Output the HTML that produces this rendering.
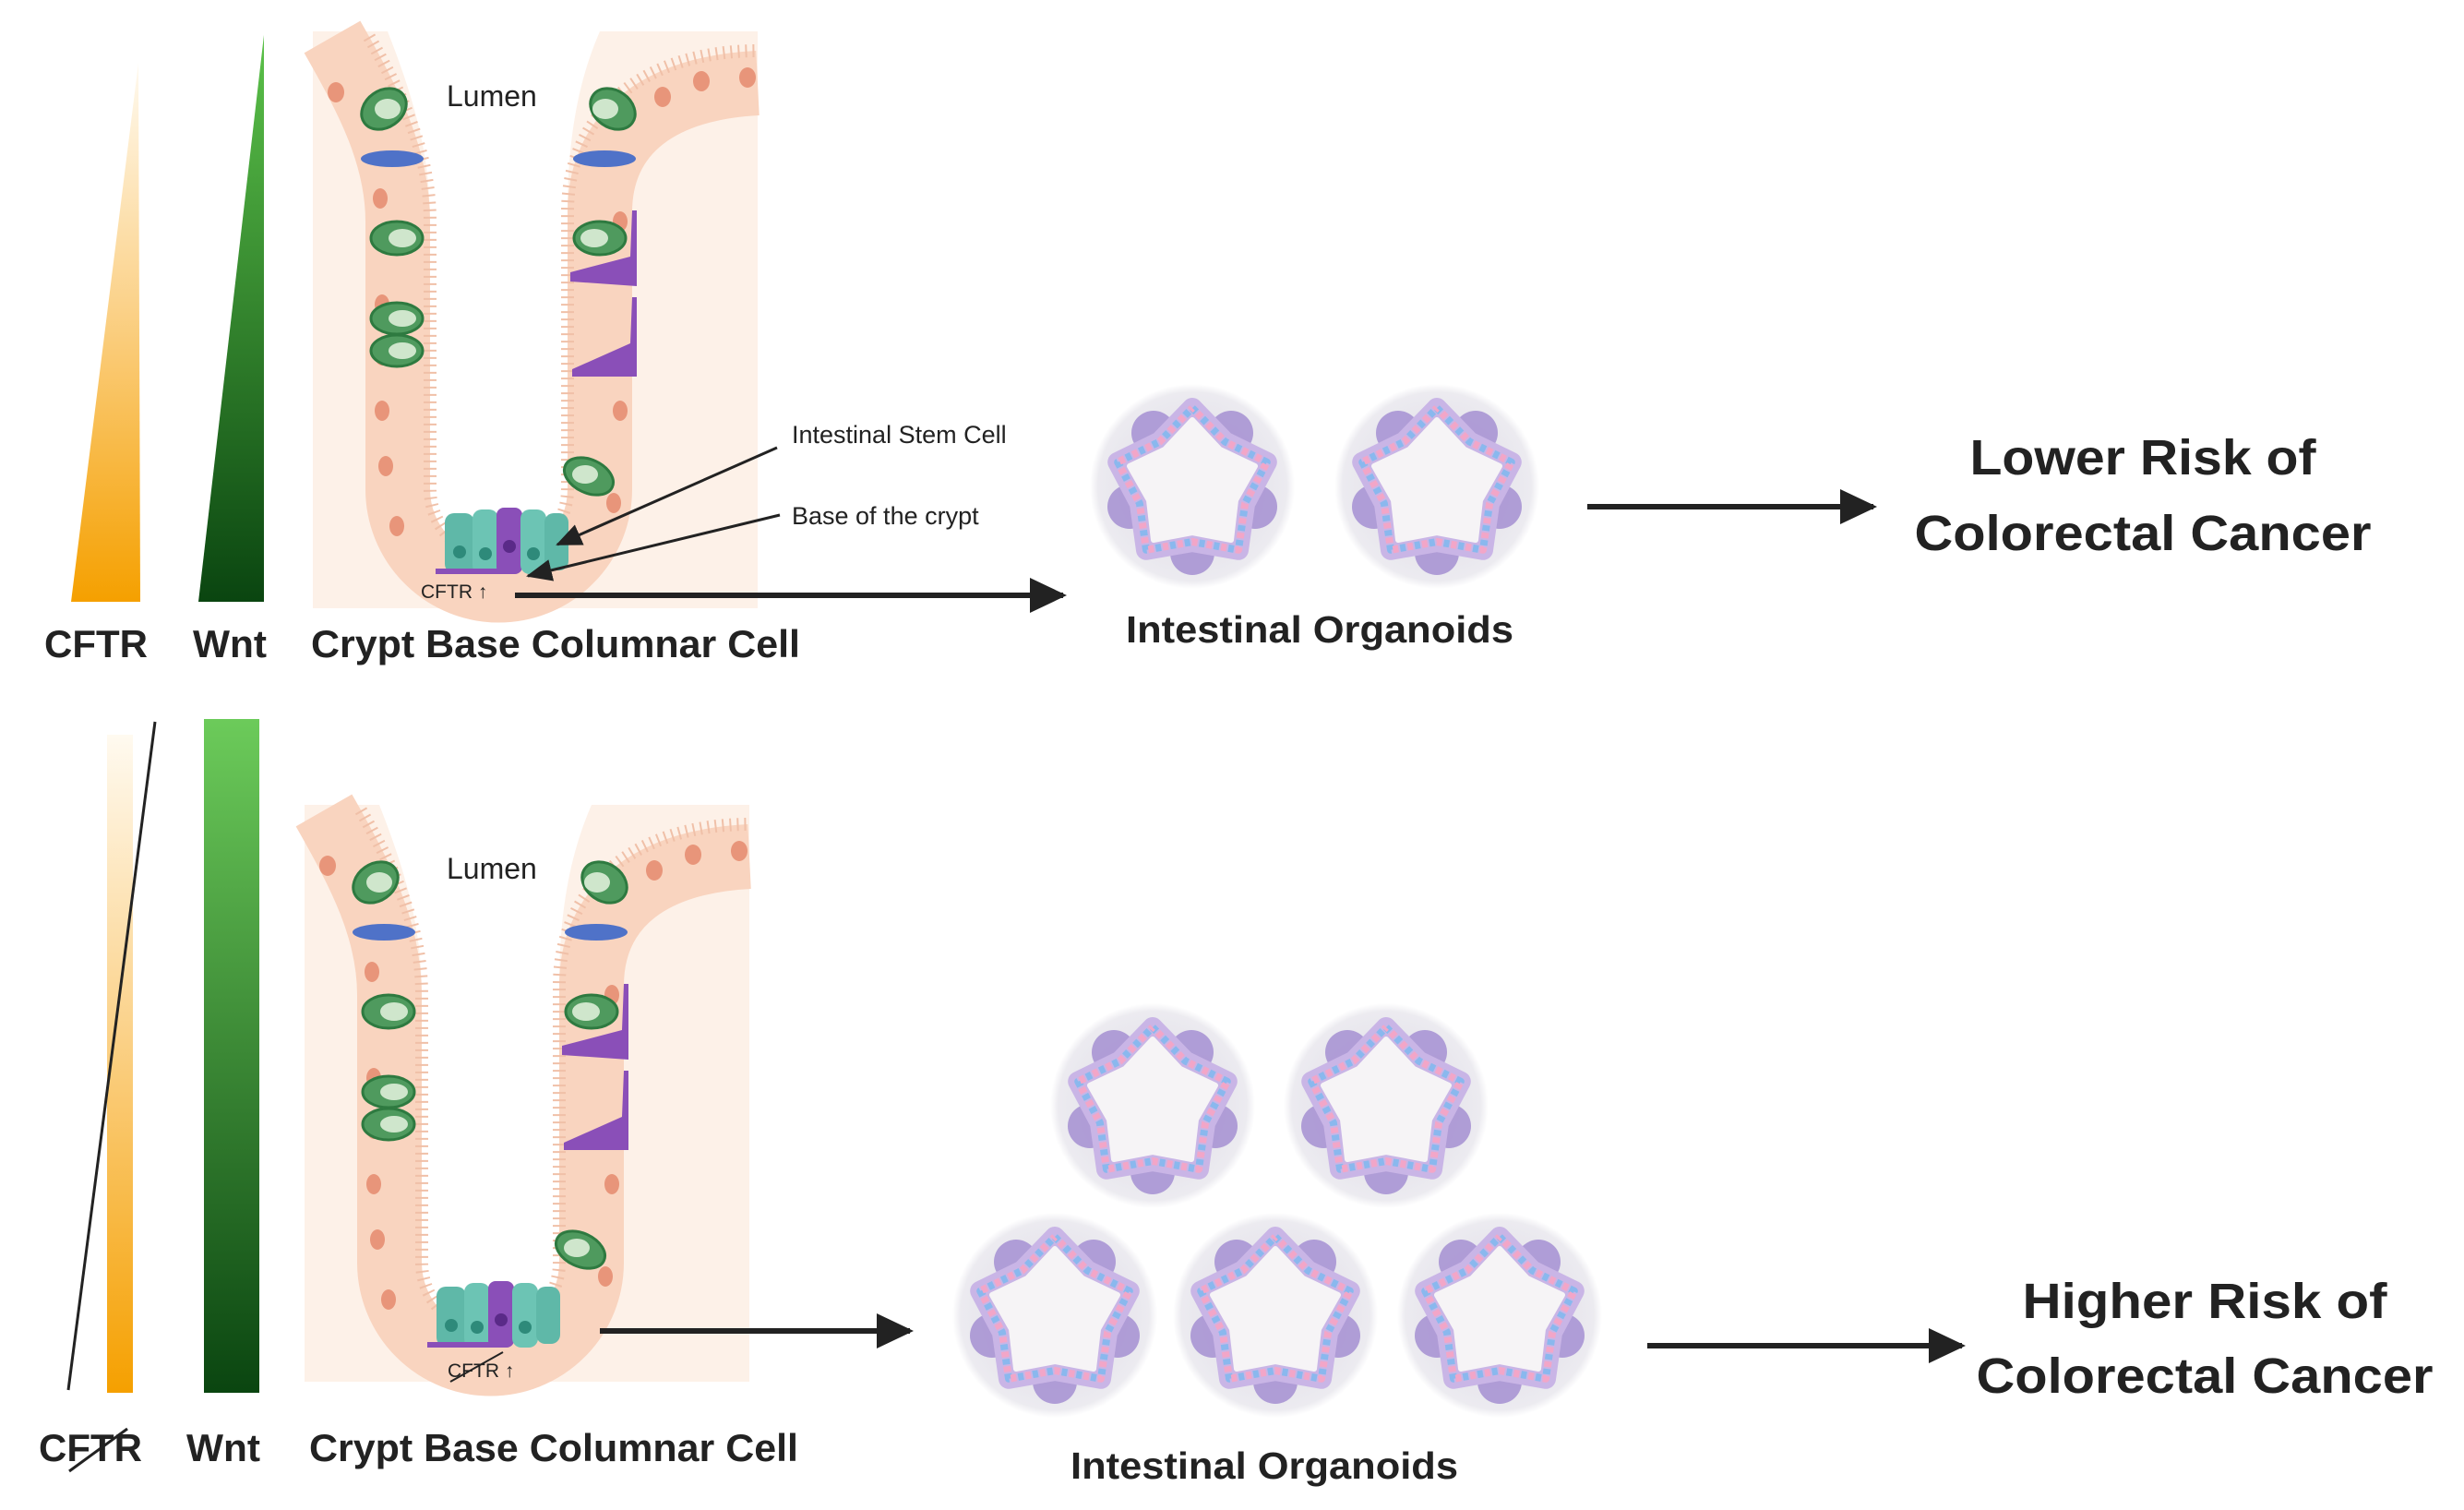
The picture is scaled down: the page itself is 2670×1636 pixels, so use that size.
<!DOCTYPE html>
<html><head><meta charset="utf-8"><style>
html,body{margin:0;padding:0;background:#fff;}
svg{display:block;}
text{font-family:"Liberation Sans",sans-serif;fill:#222;}
.b{font-weight:bold;}
</style></head><body>
<svg width="2670" height="1636" viewBox="0 0 2670 1636" xmlns="http://www.w3.org/2000/svg">
<defs>
<linearGradient id="gc" x1="0" y1="0" x2="0" y2="1"><stop offset="0" stop-color="#fffaf0"/><stop offset="0.45" stop-color="#fbd28a"/><stop offset="1" stop-color="#f5a000"/></linearGradient>
<linearGradient id="gw" x1="0" y1="0" x2="0" y2="1"><stop offset="0" stop-color="#5cc24a"/><stop offset="1" stop-color="#0a4510"/></linearGradient>
<linearGradient id="gw2" x1="0" y1="0" x2="0" y2="1"><stop offset="0" stop-color="#6ccb5a"/><stop offset="1" stop-color="#0a4510"/></linearGradient>
<radialGradient id="go"><stop offset="0.6" stop-color="#e6e4ec"/><stop offset="0.92" stop-color="#ecebf0"/><stop offset="1" stop-color="#ffffff"/></radialGradient>
<marker id="ah" markerWidth="40" markerHeight="38" refX="36" refY="19" orient="auto" markerUnits="userSpaceOnUse" viewBox="0 0 40 38"><path d="M0,0 L40,19 L0,38 z" fill="#222"/></marker>
<marker id="as" markerWidth="28" markerHeight="24" refX="26" refY="12" orient="auto" markerUnits="userSpaceOnUse" viewBox="0 0 28 24"><path d="M0,0 L28,12 L0,24 z" fill="#222"/></marker>
<g id="org">
<circle r="111" fill="url(#go)"/>
<g fill="#a995d4" opacity="0.9">
<circle cx="42" cy="-58" r="24"/><circle cx="68" cy="22" r="24"/><circle cx="0" cy="72" r="24"/><circle cx="-68" cy="22" r="24"/><circle cx="-42" cy="-58" r="24"/>
</g>
<polygon points="0,-85 35.3,-48.5 80.8,-26.3 57.1,18.5 50,68.8 0,60 -50,68.8 -57.1,18.5 -80.8,-26.3 -35.3,-48.5" fill="none" stroke="#c9b5e6" stroke-width="22" stroke-linejoin="round"/>
<polygon points="0,-85 35.3,-48.5 80.8,-26.3 57.1,18.5 50,68.8 0,60 -50,68.8 -57.1,18.5 -80.8,-26.3 -35.3,-48.5" fill="none" stroke="#8ab8ee" stroke-width="8" stroke-dasharray="6 10" stroke-linejoin="round"/>
<polygon points="0,-85 35.3,-48.5 80.8,-26.3 57.1,18.5 50,68.8 0,60 -50,68.8 -57.1,18.5 -80.8,-26.3 -35.3,-48.5" fill="none" stroke="#f2a6c8" stroke-width="8" stroke-dasharray="6 10" stroke-dashoffset="8" stroke-linejoin="round"/>
<polygon points="0,-72 30,-40 68,-22 47,15 42,58 0,50 -42,58 -47,15 -68,-22 -30,-40" fill="#f6f4f6" stroke="#f6f4f6" stroke-width="6" stroke-linejoin="round"/>
</g>
<g id="crypt">
<rect x="339" y="34" width="482" height="625" fill="#fdf1e8"/>
<path d="M420,34 C450,110 466,170 466,240 L466,530 A74,74 0 0 0 615,530 L615,230 C615,140 630,80 650,34 z" fill="#ffffff"/>
<path d="M360,40 C400,110 431,170 431,240 L431,530 A109,109 0 0 0 650,530 L650,230 C650,140 720,95 821,90" fill="none" stroke="#f9d4bf" stroke-width="70"/>
<path d="M400,40 C440,110 466,170 466,240 L466,530 A74,74 0 0 0 615,530 L615,230 C615,120 700,55 821,55" fill="none" stroke="#f0c0a8" stroke-width="14" stroke-dasharray="2 6"/>
<g fill="#e8957a">
<ellipse cx="364" cy="100" rx="9" ry="11"/><ellipse cx="412" cy="215" rx="8" ry="11"/><ellipse cx="414" cy="330" rx="8" ry="11"/><ellipse cx="414" cy="385" rx="8" ry="11"/><ellipse cx="414" cy="445" rx="8" ry="11"/><ellipse cx="418" cy="505" rx="8" ry="11"/><ellipse cx="430" cy="570" rx="8" ry="11"/>
<ellipse cx="672" cy="240" rx="8" ry="11"/><ellipse cx="672" cy="395" rx="8" ry="11"/><ellipse cx="672" cy="445" rx="8" ry="11"/><ellipse cx="665" cy="545" rx="8" ry="11"/><ellipse cx="718" cy="105" rx="9" ry="11"/><ellipse cx="760" cy="88" rx="9" ry="11"/><ellipse cx="810" cy="84" rx="9" ry="11"/>
</g>
<g fill="#4f9a5e" stroke="#2e7a40" stroke-width="3">
<ellipse cx="416" cy="118" rx="26" ry="20" transform="rotate(-35 416 118)"/><ellipse cx="430" cy="258" rx="28" ry="18"/><ellipse cx="430" cy="345" rx="28" ry="17"/><ellipse cx="430" cy="380" rx="28" ry="17"/>
<ellipse cx="664" cy="118" rx="26" ry="20" transform="rotate(35 664 118)"/><ellipse cx="650" cy="258" rx="28" ry="18"/><ellipse cx="638" cy="516" rx="28" ry="18" transform="rotate(25 638 516)"/>
</g>
<g fill="#cfe6cc"><ellipse cx="420" cy="118" rx="14" ry="11"/><ellipse cx="436" cy="258" rx="15" ry="10"/><ellipse cx="436" cy="345" rx="15" ry="9"/><ellipse cx="436" cy="380" rx="15" ry="9"/><ellipse cx="656" cy="118" rx="14" ry="11"/><ellipse cx="644" cy="258" rx="15" ry="10"/><ellipse cx="634" cy="514" rx="14" ry="10"/></g>
<g fill="#4f72c8"><ellipse cx="425" cy="172" rx="34" ry="9"/><ellipse cx="655" cy="172" rx="34" ry="9"/></g>
<g fill="#8a4fb8">
<path d="M618,295 L683,278 L685,228 L690,228 L690,310 L618,305 z"/><path d="M620,400 L683,372 L685,322 L690,322 L690,408 L620,408 z"/>
</g>
<g>
<rect x="482" y="556" width="32" height="65" rx="10" fill="#5fb8a8"/><rect x="512" y="552" width="28" height="70" rx="10" fill="#6cc4b4"/><rect x="538" y="550" width="28" height="72" rx="8" fill="#8a4fb8"/><rect x="564" y="552" width="28" height="70" rx="10" fill="#6cc4b4"/><rect x="590" y="556" width="26" height="62" rx="10" fill="#5fb8a8"/>
<circle cx="498" cy="598" r="7" fill="#2e8a7a"/><circle cx="526" cy="600" r="7" fill="#2e8a7a"/><circle cx="552" cy="592" r="7" fill="#5a2a88"/><circle cx="578" cy="600" r="7" fill="#2e8a7a"/>
<rect x="472" y="616" width="80" height="6" fill="#8a4fb8"/>
</g>
</g>
</defs>

<!-- TOP -->
<polygon points="77,652 152,652 150,68" fill="url(#gc)"/>
<polygon points="215,652 286,652 286,38" fill="url(#gw)"/>
<use href="#crypt"/>
<text x="484" y="115" font-size="32">Lumen</text>
<text x="858" y="480" font-size="27">Intestinal Stem Cell</text>
<text x="858" y="568" font-size="27">Base of the crypt</text>
<line x1="842" y1="485" x2="604" y2="590" stroke="#222" stroke-width="3" marker-end="url(#as)"/>
<line x1="845" y1="558" x2="572" y2="624" stroke="#222" stroke-width="3" marker-end="url(#as)"/>
<text x="456" y="648" font-size="21">CFTR ↑</text>
<line x1="558" y1="645" x2="1152" y2="645" stroke="#222" stroke-width="6" marker-end="url(#ah)"/>
<text class="b" x="48" y="712" font-size="42" textLength="112" lengthAdjust="spacingAndGlyphs">CFTR</text>
<text class="b" x="209" y="712" font-size="42" textLength="80" lengthAdjust="spacingAndGlyphs">Wnt</text>
<text class="b" x="337" y="712" font-size="42" textLength="530" lengthAdjust="spacingAndGlyphs">Crypt Base Columnar Cell</text>
<use href="#org" x="1292" y="527"/>
<use href="#org" x="1557" y="527"/>
<text class="b" x="1220" y="696" font-size="41" textLength="420" lengthAdjust="spacingAndGlyphs">Intestinal Organoids</text>
<line x1="1720" y1="549" x2="2030" y2="549" stroke="#222" stroke-width="6" marker-end="url(#ah)"/>
<text class="b" x="2322" y="514" font-size="54" text-anchor="middle" textLength="375" lengthAdjust="spacingAndGlyphs">Lower Risk of</text>
<text class="b" x="2322" y="596" font-size="54" text-anchor="middle" textLength="495" lengthAdjust="spacingAndGlyphs">Colorectal Cancer</text>

<!-- BOTTOM -->
<rect x="116" y="796" width="28" height="713" fill="url(#gc)"/>
<line x1="168" y1="782" x2="74" y2="1506" stroke="#222" stroke-width="3"/>
<rect x="221" y="779" width="60" height="730" fill="url(#gw2)"/>
<use href="#crypt" transform="translate(-9,838)"/>
<text x="484" y="952" font-size="32">Lumen</text>
<text x="485" y="1492" font-size="21">CFTR ↑</text>
<line x1="488" y1="1497" x2="545" y2="1465" stroke="#222" stroke-width="2"/>
<line x1="650" y1="1442" x2="986" y2="1442" stroke="#222" stroke-width="6" marker-end="url(#ah)"/>
<text class="b" x="42" y="1583" font-size="42" textLength="112" lengthAdjust="spacingAndGlyphs">CFTR</text>
<line x1="75" y1="1594" x2="138" y2="1548" stroke="#222" stroke-width="3"/>
<text class="b" x="202" y="1583" font-size="42" textLength="80" lengthAdjust="spacingAndGlyphs">Wnt</text>
<text class="b" x="335" y="1583" font-size="42" textLength="530" lengthAdjust="spacingAndGlyphs">Crypt Base Columnar Cell</text>
<use href="#org" x="1249" y="1198"/>
<use href="#org" x="1502" y="1198"/>
<use href="#org" x="1143" y="1425"/>
<use href="#org" x="1382" y="1425"/>
<use href="#org" x="1625" y="1425"/>
<text class="b" x="1160" y="1602" font-size="41" textLength="420" lengthAdjust="spacingAndGlyphs">Intestinal Organoids</text>
<line x1="1785" y1="1458" x2="2126" y2="1458" stroke="#222" stroke-width="6" marker-end="url(#ah)"/>
<text class="b" x="2389" y="1428" font-size="54" text-anchor="middle" textLength="395" lengthAdjust="spacingAndGlyphs">Higher Risk of</text>
<text class="b" x="2389" y="1509" font-size="54" text-anchor="middle" textLength="495" lengthAdjust="spacingAndGlyphs">Colorectal Cancer</text>
</svg>
</body></html>
